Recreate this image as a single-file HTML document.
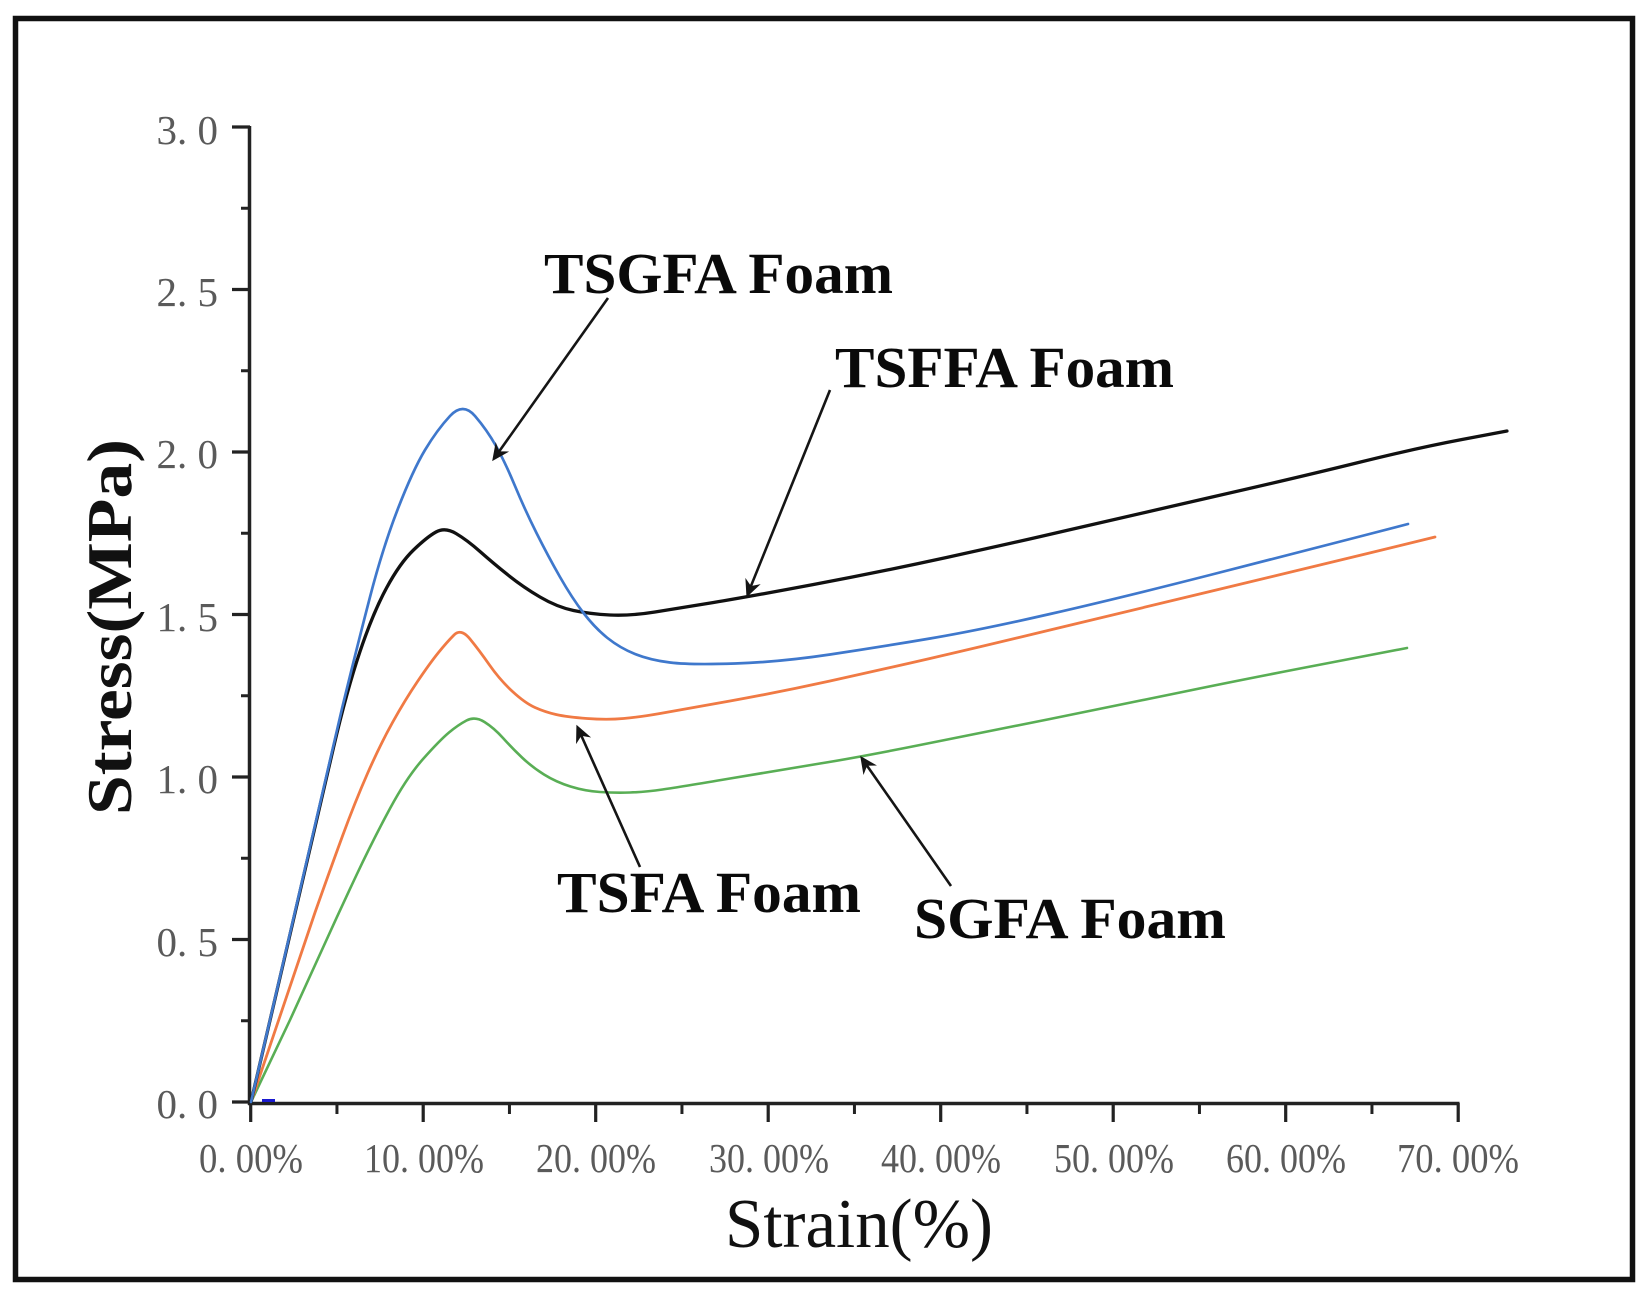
<!DOCTYPE html>
<html>
<head>
<meta charset="utf-8">
<style>
  html, body { margin: 0; padding: 0; background: #ffffff; }
  svg { display: block; }
</style>
</head>
<body>
<svg width="1651" height="1297" viewBox="0 0 1651 1297" xmlns="http://www.w3.org/2000/svg">
  <rect x="0" y="0" width="1651" height="1297" fill="#ffffff"/>
  <!-- outer frame -->
  <rect x="15.5" y="18.5" width="1617" height="1261" fill="none" stroke="#111" stroke-width="5.5"/>

  <!-- axes -->
  <g stroke="#222" stroke-width="3.5" fill="none" stroke-linecap="butt">
    <line x1="249.5" y1="126" x2="249.5" y2="1105"/>
    <line x1="248" y1="1103.5" x2="1459.5" y2="1103.5"/>
  </g>
  <!-- y ticks (major) -->
  <g stroke="#222" stroke-width="3.2">
    <line x1="232" y1="127" x2="250" y2="127"/>
    <line x1="232" y1="289.5" x2="250" y2="289.5"/>
    <line x1="232" y1="452" x2="250" y2="452"/>
    <line x1="232" y1="614.5" x2="250" y2="614.5"/>
    <line x1="232" y1="777" x2="250" y2="777"/>
    <line x1="232" y1="939.5" x2="250" y2="939.5"/>
    <line x1="232" y1="1102" x2="250" y2="1102"/>
  </g>
  <!-- y ticks (minor) -->
  <g stroke="#222" stroke-width="3">
    <line x1="241" y1="208.25" x2="250" y2="208.25"/>
    <line x1="241" y1="370.75" x2="250" y2="370.75"/>
    <line x1="241" y1="533.25" x2="250" y2="533.25"/>
    <line x1="241" y1="695.75" x2="250" y2="695.75"/>
    <line x1="241" y1="858.25" x2="250" y2="858.25"/>
    <line x1="241" y1="1020.75" x2="250" y2="1020.75"/>
  </g>
  <!-- x ticks major -->
  <g stroke="#222" stroke-width="3.2">
    <line x1="250.7" y1="1103" x2="250.7" y2="1122"/>
    <line x1="423.2" y1="1103" x2="423.2" y2="1122"/>
    <line x1="595.7" y1="1103" x2="595.7" y2="1122"/>
    <line x1="768.2" y1="1103" x2="768.2" y2="1122"/>
    <line x1="940.7" y1="1103" x2="940.7" y2="1122"/>
    <line x1="1113.2" y1="1103" x2="1113.2" y2="1122"/>
    <line x1="1285.7" y1="1103" x2="1285.7" y2="1122"/>
    <line x1="1458.2" y1="1103" x2="1458.2" y2="1122"/>
  </g>
  <!-- x ticks minor -->
  <g stroke="#222" stroke-width="3">
    <line x1="336.95" y1="1103" x2="336.95" y2="1114"/>
    <line x1="509.45" y1="1103" x2="509.45" y2="1114"/>
    <line x1="681.95" y1="1103" x2="681.95" y2="1114"/>
    <line x1="854.45" y1="1103" x2="854.45" y2="1114"/>
    <line x1="1026.95" y1="1103" x2="1026.95" y2="1114"/>
    <line x1="1199.45" y1="1103" x2="1199.45" y2="1114"/>
    <line x1="1371.95" y1="1103" x2="1371.95" y2="1114"/>
  </g>

  <!-- y tick labels -->
  <g font-family="'Liberation Serif', serif" font-size="41" fill="#5a5a5a" text-anchor="end">
    <text x="218" y="144">3. 0</text>
    <text x="218" y="306">2. 5</text>
    <text x="218" y="468">2. 0</text>
    <text x="218" y="631">1. 5</text>
    <text x="218" y="793">1. 0</text>
    <text x="218" y="956">0. 5</text>
    <text x="218" y="1118">0. 0</text>
  </g>
  <!-- x tick labels -->
  <g font-family="'Liberation Serif', serif" font-size="41" fill="#5a5a5a" text-anchor="middle">
    <text x="251" y="1172" textLength="104" lengthAdjust="spacingAndGlyphs">0. 00%</text>
    <text x="424" y="1172" textLength="120" lengthAdjust="spacingAndGlyphs">10. 00%</text>
    <text x="596" y="1172" textLength="120" lengthAdjust="spacingAndGlyphs">20. 00%</text>
    <text x="769" y="1172" textLength="120" lengthAdjust="spacingAndGlyphs">30. 00%</text>
    <text x="941" y="1172" textLength="120" lengthAdjust="spacingAndGlyphs">40. 00%</text>
    <text x="1114" y="1172" textLength="120" lengthAdjust="spacingAndGlyphs">50. 00%</text>
    <text x="1286" y="1172" textLength="120" lengthAdjust="spacingAndGlyphs">60. 00%</text>
    <text x="1458" y="1172" textLength="122" lengthAdjust="spacingAndGlyphs">70. 00%</text>
  </g>

  <!-- axis titles -->
  <text x="725" y="1247" font-family="'Liberation Serif', serif" font-size="70" fill="#111" textLength="268" lengthAdjust="spacingAndGlyphs">Strain(%)</text>
  <text transform="translate(131,627) rotate(-90)" text-anchor="middle" font-family="'Liberation Serif', serif" font-weight="bold" font-size="63" fill="#111" textLength="376" lengthAdjust="spacingAndGlyphs">Stress(MPa)</text>

  <!-- series -->
  <g fill="none" stroke-linejoin="round" stroke-linecap="round">
    <path stroke="#2f9a2a" stroke-opacity="0.8" stroke-width="2.6" d="M251,1102 L290,1020 Q307,983 323.5,946.5 Q340,910 356.5,875 Q373,840 390,808.5 Q407,777 423.5,758.5 Q440,740 449,732.5 Q458,725 466.5,720.5 Q475,716 484.5,722 Q494,728 503,738 Q512,748 522,757.5 Q532,767 544,774.5 Q556,782 570.5,786.5 Q585,791 600,792 Q615,793 630,792.5 Q645,792 662.5,789.5 Q680,787 730,778.5 Q780,770 820,763.5 Q860,757 920,745 Q980,733 1050,719 Q1120,705 1180,692.5 Q1240,680 1323.5,664 L1407,648"/>
    <path stroke="#f07a44" stroke-width="2.8" d="M251,1102 L315,912.5 Q330,870 342.5,836 Q355,802 367.5,773.5 Q380,745 392.5,722.5 Q405,700 417.5,681.5 Q430,663 438.5,652.5 Q447,642 454,635 Q461,628 470,639 Q479,650 489.5,665 Q500,680 512.5,691.5 Q525,703 535,707.5 Q545,712 556,714.5 Q567,717 587,718.5 Q607,720 623.5,718.5 Q640,717 660,713.5 Q680,710 730,701 Q780,692 830,681 Q880,670 930,658.5 Q980,647 1050,630 Q1120,613 1210,591.5 Q1300,570 1367.5,553.5 L1435,537"/>
    <path stroke="#111" stroke-width="3.3" d="M251,1102 L333.5,747.5 Q347,690 360,651.5 Q373,613 386.5,588 Q400,563 413.5,550 Q427,537 436,532 Q445,527 456,533.5 Q467,540 480,551.5 Q493,563 508,575 Q523,587 540,597 Q557,607 573.5,610.5 Q590,614 610,615 Q630,616 655,612 Q680,608 713.5,602.5 Q747,597 813.5,584.5 Q880,572 946.5,557.5 Q1013,543 1066.5,530.5 Q1120,518 1210,497.5 Q1300,477 1358.5,462.5 Q1417,448 1462,439.5 L1507,431"/>
    <path stroke="#3f78cc" stroke-width="2.7" d="M251,1102 L342,708.5 Q357,647 370,597 Q383,547 398,508.5 Q413,470 425,450 Q437,430 450,416 Q463,402 475,416 Q487,430 496,446 Q505,462 515,486 Q525,510 536.5,533 Q548,556 560,577 Q572,598 583.5,613 Q595,628 607.5,638 Q620,648 635,654 Q650,660 670,662.5 Q690,665 735,663.5 Q780,662 830,654.5 Q880,647 930,638.5 Q980,630 1050,614 Q1120,598 1210,575 Q1300,552 1354,538 L1408,524"/>
  </g>
  <!-- small blue mark near origin -->
  <line x1="262" y1="1100.5" x2="275" y2="1100.5" stroke="#1a1ad0" stroke-width="3"/>

  <!-- arrows -->
  <g stroke="#151515" stroke-width="2.6" fill="none">
    <line x1="608" y1="298" x2="498.8" y2="451.9"/>
    <line x1="830" y1="390" x2="750.7" y2="586.7"/>
    <line x1="640" y1="867" x2="581.1" y2="735.1"/>
    <line x1="951" y1="886" x2="866.7" y2="765.2"/>
  </g>
  <g fill="#151515" stroke="#151515" stroke-width="1.2" stroke-linejoin="miter">
    <polygon points="493,460 506.9,452.1 498.8,451.9 495.9,444.3"/>
    <polygon points="747,596 758.7,585.1 750.7,586.7 746.1,580"/>
    <polygon points="577,726 576.7,742 581.1,735.1 589.1,736.5"/>
    <polygon points="861,757 863.7,772.8 866.7,765.2 874.8,765"/>
  </g>

  <!-- annotations -->
  <g font-family="'Liberation Serif', serif" font-weight="bold" font-size="58" fill="#0a0a0a">
    <text x="544" y="293" textLength="349" lengthAdjust="spacingAndGlyphs">TSGFA Foam</text>
    <text x="835" y="387" textLength="339" lengthAdjust="spacingAndGlyphs">TSFFA Foam</text>
    <text x="557" y="912" textLength="304" lengthAdjust="spacingAndGlyphs">TSFA Foam</text>
    <text x="914" y="938" textLength="312" lengthAdjust="spacingAndGlyphs">SGFA Foam</text>
  </g>
</svg>
</body>
</html>
